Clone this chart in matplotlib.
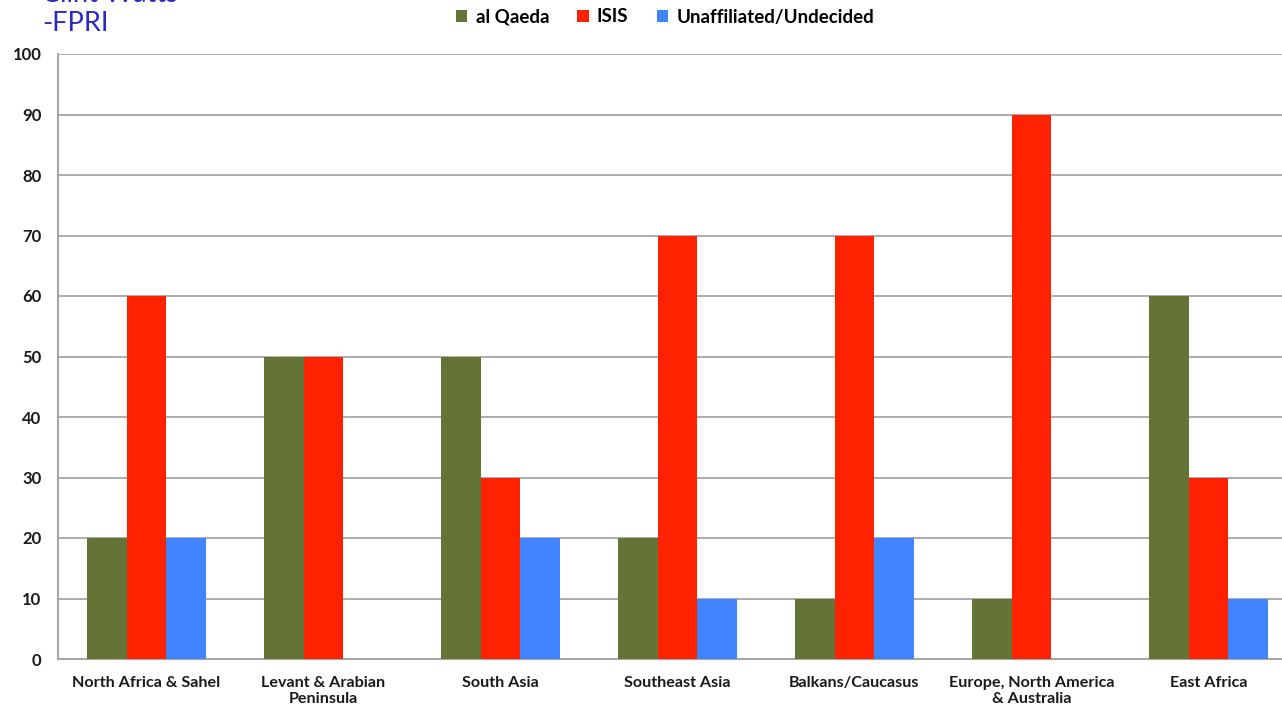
import matplotlib.pyplot as plt
import numpy as np

plt.rcParams["font.family"] = ["Lato", "DejaVu Sans"]

regions = [
    "North Africa & Sahel",
    "Levant & Arabian\nPeninsula",
    "South Asia",
    "Southeast Asia",
    "Balkans/Caucasus",
    "Europe, North America\n& Australia",
    "East Africa",
]
al_qaeda = [20, 50, 50, 20, 10, 10, 60]
isis = [60, 50, 30, 70, 70, 90, 30]
unaffiliated = [20, 0, 20, 10, 20, 0, 10]

series = [
    ("al Qaeda", al_qaeda, "#637436"),
    ("ISIS", isis, "#ff2200"),
    ("Unaffiliated/Undecided", unaffiliated, "#4284ff"),
]

fig = plt.figure(figsize=(12.82, 7.08), dpi=100)
ax = fig.add_axes([58 / 1282, 49 / 708, 1239 / 1282, 605 / 708])

x = np.arange(len(regions))
width = 0.223
for k, (name, values, color) in enumerate(series):
    ax.bar(x + (k - 1) * width, values, width, color=color, label=name, zorder=3)

ax.set_xlim(-0.5, len(regions) - 0.5)
ax.set_ylim(0, 100)
ax.set_yticks(np.arange(0, 101, 10))
ax.yaxis.grid(True, color="#a6a6a6", linewidth=1.3, zorder=0)
ax.set_xticks(x, regions, fontsize=11.6, fontweight="bold", color="#1a1a1a",
              linespacing=1.25)
ax.tick_params(axis="y", labelsize=12, length=0, pad=12)
ax.tick_params(axis="x", length=0, pad=12)
for lab in ax.get_yticklabels():
    lab.set_fontweight("bold")
    lab.set_color("#1a1a1a")

for side in ("top", "right"):
    ax.spines[side].set_visible(False)
for side in ("left", "bottom"):
    ax.spines[side].set_color("#a6a6a6")
    ax.spines[side].set_linewidth(1.5)

fig.legend(
    loc="center",
    bbox_to_anchor=(665 / 1282, 1 - 17 / 708),
    ncol=3,
    frameon=False,
    handlelength=0.6,
    handleheight=0.6,
    handletextpad=0.45,
    columnspacing=1.5,
    prop={"weight": "bold", "size": 13.5},
)

fig.text(42 / 1282, 1 - 2 / 708, "Clint Watts", fontsize=19.5, color="#2a2abf", va="baseline")
fig.text(42 / 1282, 1 - 31 / 708, "-FPRI", fontsize=19.5, color="#2a2abf", va="baseline")

fig.savefig("out.png", dpi=100)
